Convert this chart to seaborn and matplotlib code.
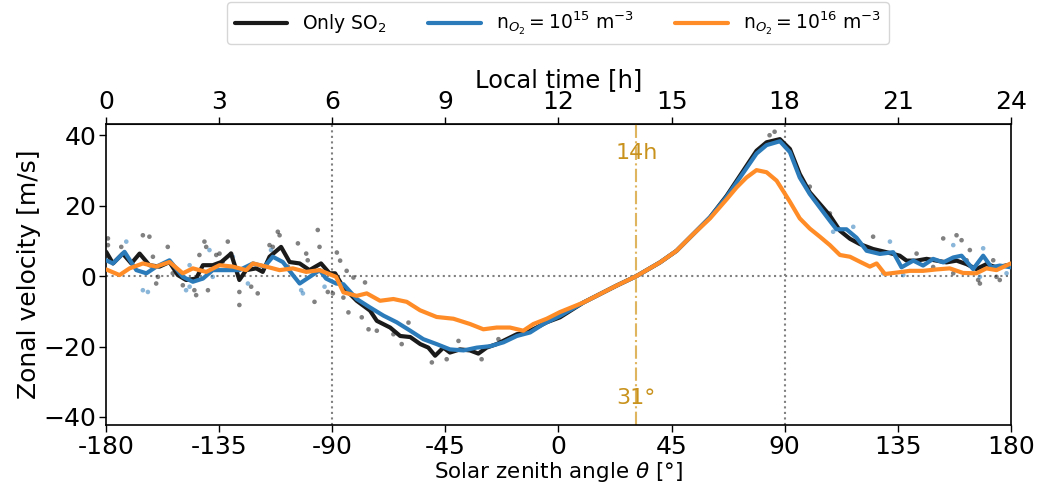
import numpy as np
import pandas as pd
import matplotlib
matplotlib.use("Agg")
import matplotlib.pyplot as plt
import seaborn as sns

# ---------------- data ----------------
so2_x = [-180, -177.3, -173.4, -170, -166.7, -162.8, -158.8, -154.8, -151.5, -148.2, -144.2, -141.5,
         -137.6, -134.2, -130.3, -127, -124.3, -120.3, -117.7, -115, -110.4, -107, -103, -99.1, -94.5,
         -91.1, -88.9, -85.6, -80.3, -75, -72.3, -67, -63, -59, -55, -51.8, -49.1, -45.8, -43.2, -39.2,
         -35.2, -31.9, -28.6, -24.6, -20.6, -16.6, -12.7, -8.7, -4.7, 0.6, 9.9, 23.1, 31, 40.4, 47, 53.6,
         60.3, 66.9, 73.5, 78.8, 82.8, 88.1, 92.1, 96, 100, 104, 108, 112, 116, 119.9, 125.2, 130.5,
         135.8, 138.5, 142.5, 146.5, 150.4, 154.4, 158.4, 162.4, 166.3, 170.3, 174.3, 180]
so2_y = [6.9, 3.6, 6.4, 3.6, 6.4, 3.1, 2.7, 4.0, 0.3, -1.1, -0.7, 3.1,
         3.1, 4.0, 6.4, -1.1, 1.7, 2.2, 1.2, 5.5, 8.3, 4.0, 3.6, 1.7, 3.6,
         0.8, 0.8, -3.2, -7.0, -9.8, -12.7, -14.6, -17.0, -17.3, -19.3, -20.3, -22.6, -20.3, -21.7, -20.8,
         -21.1, -22.0, -20.3, -19.3, -17.9, -16.5, -16.0, -14.6, -13.1, -11.7, -7.5, -2.7, 0.0, 3.9, 7.2, 11.9,
         16.7, 22.8, 29.9, 35.6, 38.0, 38.9, 36.1, 29.0, 23.8, 20.5, 17.2, 12.9, 10.6, 9.1, 7.7, 6.8,
         5.8, 4.4, 4.4, 4.9, 4.4, 3.9, 4.4, 3.4, 2.0, 3.4, 2.5, 3.3]

o15_x = [-180, -177.3, -172.7, -168, -164, -160, -154.8, -149.5, -145.5, -141.5, -137.6, -132.3, -127,
         -121.6, -117, -113.7, -109.7, -105.7, -103, -99, -95, -92.5, -88.5, -85.6, -80.3, -75, -69.7,
         -64.4, -59, -53.8, -48.5, -43.2, -37.8, -32.5, -27.2, -21.9, -16.6, -11.3, -6, 0.6, 9.9, 23.1,
         31, 40.4, 47, 53.6, 60.3, 66.9, 73.5, 78.8, 82.8, 88.1, 92.1, 96, 100, 104, 108, 110.6, 114.6,
         118.6, 122.6, 127.9, 133.2, 136.5, 141.2, 145.1, 149.1, 153.1, 157.1, 160.4, 165, 169, 172.3,
         175.6, 180]
o15_y = [4.5, 3.6, 6.9, 1.7, 0.8, 2.7, 4.5, -0.2, -1.6, -0.7, 1.7, 1.7, 1.7,
         3.6, 2.7, 5.5, 4.0, 0.3, -2.1, -0.2, 1.7, -0.7, -2.1, -2.3, -6.5, -8.9, -11.2,
         -13.1, -15.5, -17.9, -19.3, -20.8, -21.1, -20.3, -19.9, -18.8, -17.0, -16.0, -13.6, -11.3, -7.5, -2.7,
         0.0, 3.9, 7.2, 11.9, 16.7, 22.5, 29.3, 34.8, 37.2, 38.3, 35.2, 28.0, 23.3, 19.5, 15.7, 13.3, 13.3,
         10.9, 7.2, 6.3, 6.8, 2.5, 4.4, 3.0, 4.9, 3.9, 5.3, 5.8, 2.0, 5.8, 2.5,
         3.0, 2.5]

o16_x = [-180, -174.7, -170.7, -165.4, -160.1, -154.8, -149.5, -145.5, -140.2, -134.9, -129.6, -124.3,
         -121.6, -116.3, -111, -105.7, -100.4, -95.1, -88.5, -85.6, -80.3, -76.3, -71, -65.7, -60.4, -55.1,
         -48.5, -41.8, -35.2, -29.9, -24.6, -19.3, -14, -10, -4.7, 0.6, 9.9, 23.1, 31, 40.4, 47, 53.6, 60.3,
         66.9, 70.9, 74.8, 78.8, 82.8, 86.8, 90, 92.1, 96, 100, 104, 108, 112, 116, 119.9, 123.9, 126.6,
         129.9, 134.5, 139.8, 145.1, 150.4, 155.7, 161, 166.3, 170.3, 174.3, 180]
o16_y = [1.9, 0.3, 2.2, 3.6, 2.7, 4.0, 0.8, 2.2, 1.2, 3.1, 2.7, 1.7,
         3.6, 2.7, 1.7, 2.2, 1.2, 1.7, -0.2, -4.6, -5.6, -4.9, -7.0, -6.5, -7.3, -9.7,
         -11.6, -12.1, -13.6, -15.1, -14.6, -14.6, -15.5, -13.6, -12.1, -10.2, -7.5, -2.7, 0.0, 3.9, 7.2, 11.9, 16.4,
         21.8, 25.2, 28.0, 30.1, 29.5, 27.1, 23.5, 21.1, 16.4, 13.5, 11.2, 8.8, 6.0, 5.5, 4.1, 2.7, 3.6,
         0.6, 1.0, 1.5, 1.5, 1.9, 2.2, 0.9, 0.8, 2.2, 1.7, 3.6]

# scattered raw samples (visible ones)
so2_pts_x = [-179.3, -179.3, -174.0, -165.4, -162.8, -161.4, -160.1, -159.4, -155.5, -153.5, -149.5,
             -144.9, -144.2, -142.9, -140.9, -140.2, -139.5, -136.2, -134.9, -133.6, -131.6, -130.3,
             -128.9, -127.0, -127.0, -122.3, -119.7, -115.0, -113.7, -111.7, -111.0, -107.7, -103.7,
             -100.4, -99.8, -97.1, -95.8, -95.1, -91.8, -89.8,
             -88.2, -86.9, -84.3, -81.6, -77.0, -83.6, -78.3, -75.6, -72.3, -65.7, -62.4, -59.7, -50.4,
             -44.5, -39.8, -30.6, -23.9, -85.6,
             153.1, 158.4, 160.4, 167.7, 167.0, 162.4, 149.1, 157.1, 174.3, 175.6, 142.5, 125.2, 108.0,
             100.0, 163.7, 173.0, 86.0, 84.0]
so2_pts_y = [10.7, 8.8, 8.3, 11.6, 11.2, 5.5, -2.1, -0.2, 8.3, 0.8, -2.6,
             -4.0, -5.4, 6.0, 9.8, 8.3, -4.0, 6.0, 6.4, 4.1, 9.8, 6.4,
             2.7, -4.5, -8.2, -3.0, -4.9, 8.8, 8.3, 12.6, 11.6, 2.7, 9.3,
             6.4, 4.5, -7.3, 13.1, 8.3, -4.5, -4.9,
             6.7, 4.4, 1.5, -0.4, -1.8, -10.3, -11.7, -15.1, -15.5, -16.5, -19.3, -13.2, -24.5,
             -23.6, -18.4, -23.6, -17.9, -6.1,
             10.7, 11.6, 10.2, -2.1, -1.1, 4.5, 2.6, 0.8, -0.2, -1.1, 6.4, 11.2, 17.8,
             25.4, 7.4, 4.5, 41.0, 40.0]

o15_pts_x = [-172.0, -165.4, -163.4, -148.2, -146.8, -138.9, -137.6, -129.6, -123.6, -114.4, -102.4,
             -101.7, -93.1, -146.8, 169.0, 157.1, 131.9, 117.3, 109.3, 137.2, 167.7, 178.3, 129.2]
o15_pts_y = [9.8, -4.0, -4.5, -4.0, -3.0, 7.4, -0.2, 5.5, -2.1, 7.4, -4.0,
             -4.9, -3.0, 3.1, 7.9, 8.8, 9.8, 14.0, 12.6, 0.3, -0.2, 0.8, 0.8]

labels = [r"Only SO$_2$", r"n$_{O_2}=10^{15}$ m$^{-3}$", r"n$_{O_2}=10^{16}$ m$^{-3}$"]
colors = ["#1a1a1a", "#2b7bba", "#ff8c26"]
xticks = [-180, -135, -90, -45, 0, 45, 90, 135, 180]
lt_ticks = [0, 3, 6, 9, 12, 15, 18, 21, 24]

lines = pd.concat([
    pd.DataFrame({"sza": so2_x, "u": so2_y, "case": labels[0]}),
    pd.DataFrame({"sza": o15_x, "u": o15_y, "case": labels[1]}),
    pd.DataFrame({"sza": o16_x, "u": o16_y, "case": labels[2]}),
], ignore_index=True)
pts = pd.concat([
    pd.DataFrame({"sza": so2_pts_x, "u": so2_pts_y, "case": labels[0]}),
    pd.DataFrame({"sza": o15_pts_x, "u": o15_pts_y, "case": labels[1]}),
], ignore_index=True)

# ---------------- plot ----------------
sns.set_style("ticks")
plt.rcParams["font.family"] = ["DejaVu Sans"]
plt.rcParams.update({"text.color": "black", "axes.labelcolor": "black",
                     "xtick.color": "black", "ytick.color": "black"})
fig = plt.figure(figsize=(10.41, 4.92), dpi=100)
ax = fig.add_axes([0.102, 0.136, 0.869, 0.612])

pal = dict(zip(labels, colors))
sns.scatterplot(data=pts, x="sza", y="u", hue="case", palette=pal, s=11, alpha=0.55,
                edgecolor="none", legend=False, ax=ax, zorder=2)
sns.lineplot(data=lines, x="sza", y="u", hue="case", palette=pal, linewidth=3.0,
             sort=False, estimator=None, ax=ax, zorder=3, legend=True)

ax.axhline(0, color="gray", ls=":", lw=1.5, zorder=1)
ax.axvline(-90, color="gray", ls=":", lw=1.5, zorder=1)
ax.axvline(90, color="gray", ls=":", lw=1.5, zorder=1)
ax.axvline(31, color="#e0b560", ls="-.", lw=1.5, zorder=1)
ax.text(31, 35, "14h", color="#c8921c", fontsize=16, ha="center", va="center")
ax.text(31, -34.5, "31°", color="#c8921c", fontsize=16, ha="center", va="center")

ax.set_xlim(-180, 180)
ax.set_ylim(-42.3, 43.2)
ax.set_xticks(xticks)
ax.set_xticklabels([str(t) for t in xticks])
ax.set_yticks([-40, -20, 0, 20, 40])
ax.tick_params(labelsize=18, length=5, width=1, pad=2, colors="black")
ax.set_xlabel(r"Solar zenith angle $\theta$ [°]", fontsize=15.5, labelpad=1)
ax.set_ylabel("Zonal velocity [m/s]", fontsize=18, labelpad=2)
for s in ax.spines.values():
    s.set_color("black")
    s.set_linewidth(1.2)

sec = ax.secondary_xaxis("top", functions=(lambda s: (s + 180) / 15.0, lambda t: t * 15.0 - 180))
sec.set_xticks(lt_ticks)
sec.tick_params(labelsize=18, length=5, width=1, pad=2, colors="black")
sec.set_xlabel("Local time [h]", fontsize=17.5, labelpad=2, color="black")

handles, lbls = ax.get_legend_handles_labels()
ax.legend_.remove()
leg = fig.legend(handles, lbls, loc="center", bbox_to_anchor=(0.536, 0.953), ncol=3,
                 fontsize=13.5, frameon=True, handlelength=2.8, columnspacing=2.2)
for h in leg.legend_handles:
    h.set_linewidth(3)
for t in leg.get_texts():
    t.set_color("black")

fig.savefig("out.png", dpi=100)
